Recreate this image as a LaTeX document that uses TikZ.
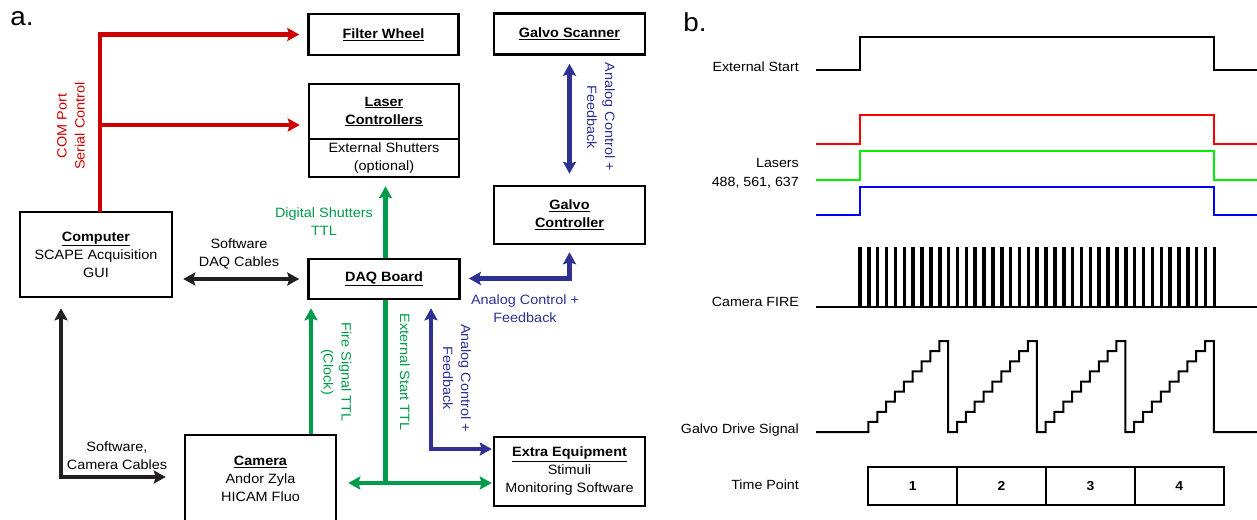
\documentclass[tikz,border=0pt]{standalone}
\usepackage{fontspec}
\setmainfont{Liberation Sans}[FakeStretch=1.07]
\usetikzlibrary{arrows.meta}
\definecolor{aRed}{RGB}{204,0,0}
\definecolor{aGreen}{RGB}{0,155,75}
\definecolor{aBlue}{RGB}{46,49,146}
\definecolor{aBlack}{RGB}{35,31,32}
\definecolor{lRed}{RGB}{255,0,0}
\definecolor{lGreen}{RGB}{0,240,0}
\definecolor{lBlue}{RGB}{0,0,255}
\begin{document}
\begin{tikzpicture}[x=1pt,y=-1pt,
  box/.style={draw,line width=2.5pt,inner sep=0pt,minimum width=150pt,align=center,
    font=\fontsize{13.5}{18}\selectfont},
  lbl/.style={align=center,font=\fontsize{13.5}{18}\selectfont,inner sep=0pt},
  tip/.style={-{Stealth[length=12pt,width=13pt,inset=2pt]}},
  dtip/.style={{Stealth[length=12pt,width=13pt,inset=2pt]}-{Stealth[length=12pt,width=13pt,inset=2pt]}},
  conn/.style={line width=4.5pt},
  sig/.style={line width=2pt},
  blbl/.style={anchor=east,inner sep=0pt,font=\fontsize{13.3}{19}\selectfont,align=right},
  tpbox/.style={draw,line width=2pt,minimum width=88.8pt,minimum height=38pt,inner sep=0pt,
    font=\fontsize{13}{15}\selectfont\bfseries}]
\useasboundingbox (0,0) rectangle (1257,519);

% ---------- panel a ----------
\node[inner sep=0pt,font=\fontsize{26}{26}\selectfont] (la) at (22,19) {a.};

\node[box,minimum height=41pt] (fw) at (383.5,34.5) {\underline{\textbf{Filter Wheel}}};
\node[box,minimum height=41pt,minimum width=151pt] (gs) at (569.5,34) {\underline{\textbf{Galvo Scanner}}};
\node[box,minimum height=55pt] (lctop) at (384,111.5) {\underline{\textbf{Laser}}\\\underline{\textbf{Controllers}}};
\node[box,minimum height=38pt] (lcbot) at (384,158) {External Shutters\\(optional)};
\node[box,minimum height=58pt,minimum width=151pt] (gc) at (569.5,215) {\underline{\textbf{Galvo}}\\\underline{\textbf{Controller}}};
\node[box,minimum height=85pt,minimum width=152pt] (comp) at (96,254.5) {\underline{\textbf{Computer}}\\SCAPE Acquisition\\GUI};
\node[box,minimum height=40pt,minimum width=151pt] (daq) at (384,279) {\underline{\textbf{DAQ Board}}};
\node[box,minimum height=88pt,minimum width=151pt] (cam) at (260.5,479) {\underline{\textbf{Camera}}\\Andor Zyla\\HICAM Fluo};
\node[box,minimum height=69pt,minimum width=151pt] (ee) at (569.5,471.5) {\underline{\textbf{Extra Equipment}}\\Stimuli\\Monitoring Software};

% red serial control
\coordinate (rb) at (100,212);
\coordinate (rm) at (100,125);
\draw[conn,aRed,tip,shorten >=8pt] (rb) |- (fw.west);
\draw[conn,aRed,tip,shorten >=8pt] (rm) -- (rm -| lctop.west);
\node[lbl,text=aRed,rotate=90] (com) at (71,126) {COM Port\\Serial Control};

% black software cables
\draw[conn,aBlack,dtip,shorten <=10pt,shorten >=8pt] (comp.east |- daq.west) -- (daq.west);
\node[lbl] (swdaq) at (239,254) {Software\\DAQ Cables};
\coordinate (cc) at (61,477);
\draw[conn,aBlack,dtip,shorten <=10pt,shorten >=18pt] (comp.south -| cc) -- (cc) -- (cc -| cam.west);
\node[lbl] (swcam) at (117,456) {Software,\\Camera Cables};

% green TTL
\coordinate (fx) at (311,0);
\draw[conn,aGreen,tip,shorten >=8pt] (cam.north -| fx) -- (daq.south -| fx);
\node[lbl,text=aGreen,rotate=-90] (fire) at (336,372) {Fire Signal TTL\\(Clock)};
\coordinate (gx) at (385.5,0);
\draw[conn,aGreen,tip,shorten >=8pt] (daq.north -| gx) -- (lcbot.south -| gx);
\node[lbl,text=aGreen] (dig) at (324,222) {Digital Shutters\\TTL};
\coordinate (gj) at (385.5,483);
\draw[conn,aGreen] (daq.south -| gj) -- (gj);
\draw[conn,aGreen,dtip,shorten <=11pt,shorten >=1pt] (gj -| cam.east) -- (gj -| ee.west);
\node[lbl,text=aGreen,rotate=-90] (ext) at (405,372) {External Start TTL};

% blue analog
\coordinate (bj) at (431,449);
\draw[conn,aBlue,dtip,shorten <=8pt,shorten >=1pt] (daq.south -| bj) -- (bj) -- (bj -| ee.west);
\node[lbl,text=aBlue,rotate=-90] (an1) at (457,378) {Analog Control +\\Feedback};
\coordinate (bg) at (569.5,278.5);
\draw[conn,aBlue,dtip,shorten <=7pt,shorten >=8pt] (gc.south) -- (bg) -- (bg -| daq.east);
\node[lbl,text=aBlue] (an2) at (525,309) {Analog Control +\\Feedback};
\draw[conn,aBlue,dtip,shorten <=8pt,shorten >=11pt] (gs.south) -- (gc.north);
\node[lbl,text=aBlue,rotate=-90] (an3) at (601,117) {Analog Control +\\Feedback};

% ---------- panel b ----------
\node[inner sep=0pt,font=\fontsize{26}{26}\selectfont] (lb) at (695,22) {b.};

\node[blbl] (es) at (799,67) {External Start};
\node[blbl] (las) at (799,173.5) {Lasers\\488, 561, 637};
\node[blbl] (cf) at (799,302) {Camera FIRE};
\node[blbl] (gd) at (799,430) {Galvo Drive Signal};
\node[blbl] (tp) at (799,485) {Time Point};

\draw[sig,black] (816,70) -- (860,70) -- (860,37) -- (1214,37) -- (1214,70) -- (1257,70);
\draw[sig,lRed] (816,144) -- (860,144) -- (860,115) -- (1214,115) -- (1214,144) -- (1257,144);
\draw[sig,lGreen] (816,180) -- (860,180) -- (860,151) -- (1214,151) -- (1214,180) -- (1257,180);
\draw[sig,lBlue] (816,215) -- (860,215) -- (860,187) -- (1214,187) -- (1214,215) -- (1257,215);

% camera fire pulses
\draw[sig,black] (816,307) -- (1257,307);
\foreach \i in {0,...,40}{
  \draw[line width=3.5pt,black] ({860+8.86*\i},308) -- ({860+8.86*\i},247);
}

% galvo staircase
\draw[sig,black,line join=miter] (816,432) -- (868.4,432)
  \foreach \k in {0,1,2,3}{
    \foreach \j in {1,...,9}{ -- ++(0,-10.1) -- ++(8.86,0) }
    -- ++(0,90.9) -- ++(8.86,0)
  } -- (1257,432);

% time point boxes
\node[tpbox] (t1) at (912.8,486) {1};
\node[tpbox] (t2) at (1001.6,486) {2};
\node[tpbox] (t3) at (1090.4,486) {3};
\node[tpbox] (t4) at (1179.2,486) {4};
\end{tikzpicture}
\end{document}
